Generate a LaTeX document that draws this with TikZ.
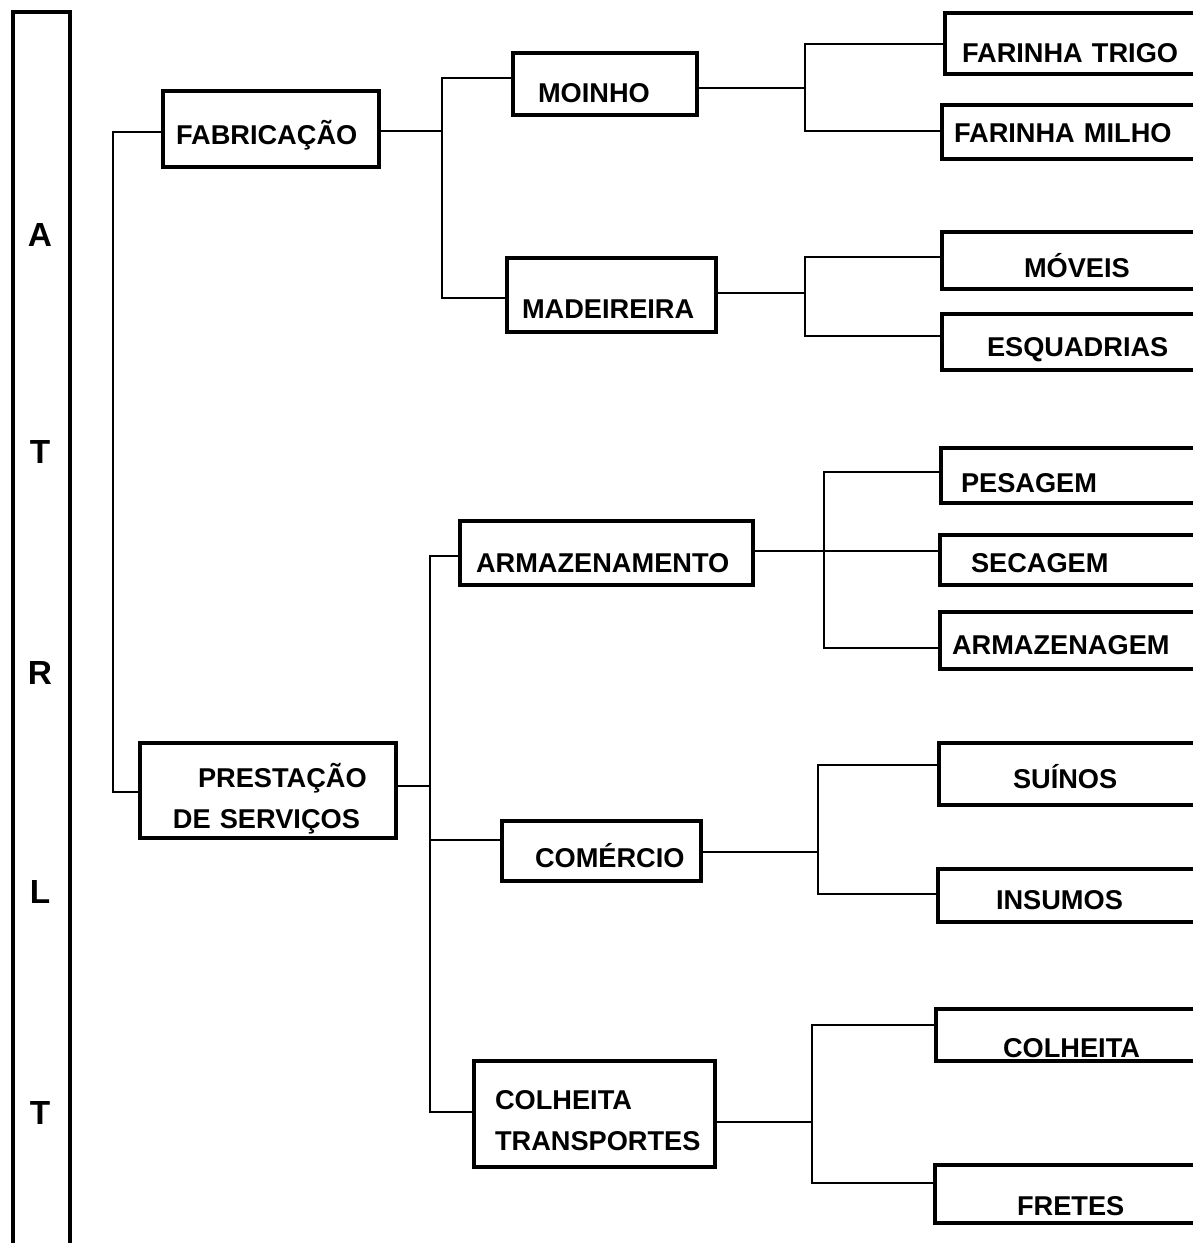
\documentclass[tikz,border=0pt]{standalone}
\usepackage{fontspec}
\setmainfont{Liberation Sans}
\tikzset{
  box/.style={draw, line width=1.7pt, anchor=north west, inner sep=0pt, outer sep=0pt, align=left,
    font=\fontsize{13.6}{20.5}\selectfont\bfseries},
  conn/.style={line width=1.35pt},
  barletter/.style={anchor=base, inner sep=0pt, font=\fontsize{16.7}{20}\selectfont\bfseries},
  barbox/.style={draw, line width=1.7pt, anchor=north west, inner sep=0pt, outer sep=0pt}
}
% name x1 y1 x2 y2 xtext ybaseline text  (pixel units)
\newcommand\bx[8]{%
  \pgfmathsetmacro\bw{(#4-#2)*0.5}%
  \pgfmathsetmacro\bh{(#7-#3)*0.5}%
  \pgfmathsetmacro\bd{(#5-#7)*0.5}%
  \pgfmathsetmacro\bo{(#6-#2)*0.5}%
  \node[box, text width=\bw pt, text height=\bh pt, text depth=\bd pt] (#1) at (#2,#3) {\hspace*{\bo pt}#8};%
}
\begin{document}
\begin{tikzpicture}[x=0.5pt, y=-0.5pt]
\useasboundingbox (0,0) rectangle (1193,1243);
\clip (0,0) rectangle (1193,1243);
\fill[white] (0,0) rectangle (1193,1243);

% left bar
\node[barbox, minimum width=28.5pt, minimum height=640pt] (bar) at (13,12) {};
\node[barletter] (l1) at (40,246) {A};
\node[barletter] (l2) at (40,463) {T};
\node[barletter] (l3) at (40,684) {R};
\node[barletter] (l4) at (40,903) {L};
\node[barletter] (l5) at (40,1124) {T};

% level 1
\bx{fab}{163}{91}{379}{167}{176}{144}{FABRICAÇÃO}
\bx{pre}{140}{743}{396}{838}{198}{787}{PRESTAÇÃO\\\hspace*{16.5pt}DE SERVIÇOS}

% level 2
\bx{moi}{513}{53}{697}{115}{538}{102}{MOINHO}
\bx{mad}{507}{258}{716}{332}{522}{318}{MADEIREIRA}
\bx{arm}{460}{521}{753}{585}{476}{572}{ARMAZENAMENTO}
\bx{com}{502}{821}{701}{881}{535}{867}{COMÉRCIO}
\bx{col}{474}{1061}{715}{1167}{495}{1109}{COLHEITA\\\hspace*{10.5pt}TRANSPORTES}

% level 3
\bx{ft}{945}{13}{1200}{74}{962}{62}{FARINHA TRIGO}
\bx{fm}{942}{105}{1200}{159}{954}{142}{FARINHA MILHO}
\bx{mov}{942}{232}{1200}{289}{1024}{277}{MÓVEIS}
\bx{esq}{942}{314}{1200}{370}{987}{356}{ESQUADRIAS}
\bx{pes}{941}{448}{1200}{503}{961}{492}{PESAGEM}
\bx{sec}{940}{535}{1200}{585}{971}{572}{SECAGEM}
\bx{arg}{940}{612}{1200}{669}{952}{654}{ARMAZENAGEM}
\bx{sui}{939}{743}{1200}{805}{1013}{788}{SUÍNOS}
\bx{ins}{938}{869}{1200}{922}{996}{909}{INSUMOS}
\bx{colh}{936}{1009}{1200}{1061}{1003}{1057}{COLHEITA}
\bx{fre}{935}{1165}{1200}{1223}{1017}{1215}{FRETES}

% connectors
\draw[conn] (fab.west|-0,132) -- (113,132) -- (113,792) -- (pre.west|-0,792);

\draw[conn] (fab.east|-0,131) -- (442,131) -- (442,78) -- (moi.west|-0,78);
\draw[conn] (fab.east|-0,131) -- (442,131) -- (442,298) -- (mad.west|-0,298);

\draw[conn] (moi.east|-0,88) -- (805,88) -- (805,44) -- (ft.west|-0,44);
\draw[conn] (moi.east|-0,88) -- (805,88) -- (805,131) -- (fm.west|-0,131);

\draw[conn] (mad.east|-0,293) -- (805,293) -- (805,257) -- (mov.west|-0,257);
\draw[conn] (mad.east|-0,293) -- (805,293) -- (805,336) -- (esq.west|-0,336);

\draw[conn] (pre.east|-0,786) -- (430,786) -- (430,556) -- (arm.west|-0,556);
\draw[conn] (pre.east|-0,786) -- (430,786) -- (430,840) -- (com.west|-0,840);
\draw[conn] (pre.east|-0,786) -- (430,786) -- (430,1112) -- (col.west|-0,1112);

\draw[conn] (arm.east|-0,551) -- (824,551) -- (824,472) -- (pes.west|-0,472);
\draw[conn] (arm.east|-0,551) -- (sec.west|-0,551);
\draw[conn] (arm.east|-0,551) -- (824,551) -- (824,648) -- (arg.west|-0,648);

\draw[conn] (com.east|-0,852) -- (818,852) -- (818,765) -- (sui.west|-0,765);
\draw[conn] (com.east|-0,852) -- (818,852) -- (818,894) -- (ins.west|-0,894);

\draw[conn] (col.east|-0,1122) -- (812,1122) -- (812,1025) -- (colh.west|-0,1025);
\draw[conn] (col.east|-0,1122) -- (812,1122) -- (812,1183) -- (fre.west|-0,1183);
\end{tikzpicture}
\end{document}
